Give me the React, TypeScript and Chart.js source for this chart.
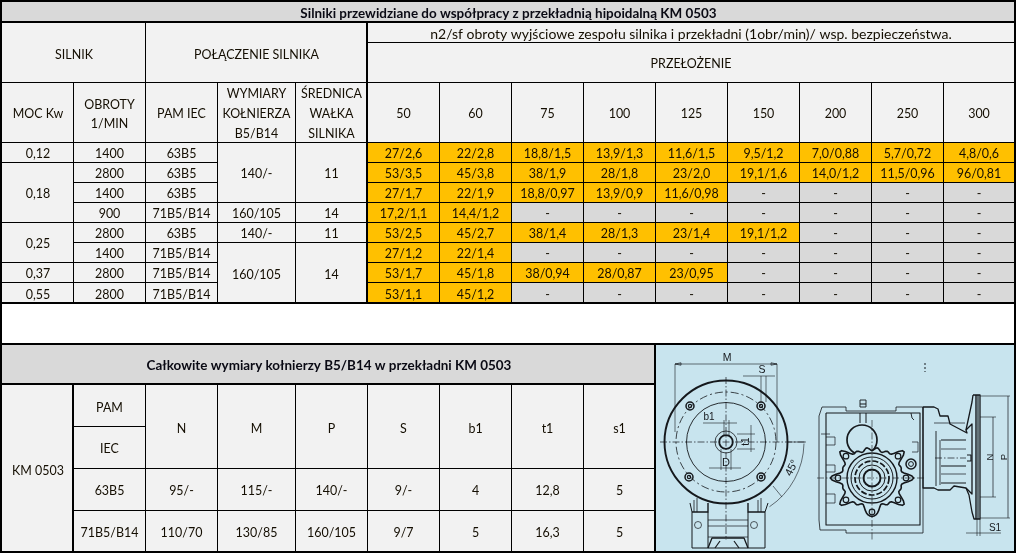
import React, { useEffect, useRef } from "react";
import { Chart, registerables } from "chart.js";

Chart.register(...registerables);

// ---- table content ----
const mainTitle = "Silniki przewidziane do współpracy z przekładnią hipoidalną KM 0503";
const outputNote = "n2/sf obroty wyjściowe zespołu silnika i przekładni (1obr/min)/ wsp. bezpieczeństwa.";
const ratioTitle = "PRZEŁOŻENIE";
const ratios = ["50", "60", "75", "100", "125", "150", "200", "250", "300"];
const motorPower = ["0,12", "0,18", "0,25", "0,37", "0,55"];
const motorPowerSpan = [1, 3, 2, 1, 1];
const motorSpeed = ["1400", "2800", "1400", "900", "2800", "1400", "2800", "2800"];
const pamIec = ["63B5", "63B5", "63B5", "71B5/B14", "63B5", "71B5/B14", "71B5/B14", "71B5/B14"];
const flangeSize = ["140/-", "160/105", "140/-", "160/105"];
const shaftSize = ["11", "14", "11", "14"];
const flangeSpan = [3, 1, 1, 3];
const outputs = [
  ["27/2,6", "22/2,8", "18,8/1,5", "13,9/1,3", "11,6/1,5", "9,5/1,2", "7,0/0,88", "5,7/0,72", "4,8/0,6"],
  ["53/3,5", "45/3,8", "38/1,9", "28/1,8", "23/2,0", "19,1/1,6", "14,0/1,2", "11,5/0,96", "96/0,81"],
  ["27/1,7", "22/1,9", "18,8/0,97", "13,9/0,9", "11,6/0,98", "-", "-", "-", "-"],
  ["17,2/1,1", "14,4/1,2", "-", "-", "-", "-", "-", "-", "-"],
  ["53/2,5", "45/2,7", "38/1,4", "28/1,3", "23/1,4", "19,1/1,2", "-", "-", "-"],
  ["27/1,2", "22/1,4", "-", "-", "-", "-", "-", "-", "-"],
  ["53/1,7", "45/1,8", "38/0,94", "28/0,87", "23/0,95", "-", "-", "-", "-"],
  ["53/1,1", "45/1,2", "-", "-", "-", "-", "-", "-", "-"],
];
const flangeTitle = "Całkowite wymiary kołnierzy B5/B14 w przekładni KM 0503";
const flangeHeads = ["N", "M", "P", "S", "b1", "t1", "s1"];
const flangeRowNames = ["63B5", "71B5/B14"];
const flangeRows = [
  ["95/-", "115/-", "140/-", "9/-", "4", "12,8", "5"],
  ["110/70", "130/85", "160/105", "9/7", "5", "16,3", "5"],
];

// ---- layout (page pixels) ----
const colX = [2, 73, 145, 217, 295, 367, 439, 511, 583, 655, 727, 799, 871, 943, 1014];
const bodyY = [142, 162, 182, 202, 222, 242, 262, 282, 303];
const lowY = [385, 426, 468, 510, 552];
const ORANGE = "#ffc000";
const GREY = "#d9d9d9";
const PALE = "#f2f2f2";
const PANEL = "#c8e4ee";
const FONT = "Lato, Carlito, sans-serif";

type Cell = { x0: number; x1: number; y0: number; y1: number; lines: string[]; fill: string; bold?: boolean };

function buildCells(): Cell[] {
  const c: Cell[] = [];
  const add = (x0: number, x1: number, y0: number, y1: number, text: string | string[], fill = PALE, bold = false) =>
    c.push({ x0, x1, y0, y1, lines: Array.isArray(text) ? text : [text], fill, bold });
  add(2, 1014, 2, 22, mainTitle, GREY, true);
  add(2, colX[2], 23, 82, "SILNIK");
  add(colX[2], colX[5], 23, 82, "POŁĄCZENIE SILNIKA");
  add(colX[5], 1014, 23, 42, outputNote);
  add(colX[5], 1014, 42, 82, ratioTitle);
  add(colX[0], colX[1], 82, 142, "MOC Kw");
  add(colX[1], colX[2], 82, 142, ["OBROTY", "1/MIN"]);
  add(colX[2], colX[3], 82, 142, "PAM IEC");
  add(colX[3], colX[4], 82, 142, ["WYMIARY", "KOŁNIERZA", "B5/B14"]);
  add(colX[4], colX[5], 82, 142, ["ŚREDNICA", "WAŁKA", "SILNIKA"]);
  ratios.forEach((r, i) => add(colX[5 + i], colX[6 + i], 82, 142, r));
  let row = 0;
  motorPower.forEach((p, i) => {
    add(colX[0], colX[1], bodyY[row], bodyY[row + motorPowerSpan[i]], p);
    row += motorPowerSpan[i];
  });
  row = 0;
  flangeSize.forEach((f, i) => {
    add(colX[3], colX[4], bodyY[row], bodyY[row + flangeSpan[i]], f);
    add(colX[4], colX[5], bodyY[row], bodyY[row + flangeSpan[i]], shaftSize[i]);
    row += flangeSpan[i];
  });
  motorSpeed.forEach((s, i) => {
    add(colX[1], colX[2], bodyY[i], bodyY[i + 1], s);
    add(colX[2], colX[3], bodyY[i], bodyY[i + 1], pamIec[i]);
    outputs[i].forEach((v, j) =>
      add(colX[5 + j], colX[6 + j], bodyY[i], bodyY[i + 1], v, v === "-" ? GREY : ORANGE)
    );
  });
  add(2, colX[9], 345, 383, flangeTitle, GREY, true);
  add(colX[0], colX[1], lowY[0], lowY[4], "KM 0503");
  add(colX[1], colX[2], lowY[0], lowY[1], "PAM");
  add(colX[1], colX[2], lowY[1], lowY[2], "IEC");
  flangeHeads.forEach((h, i) => add(colX[2 + i], colX[3 + i], lowY[0], lowY[2], h));
  flangeRows.forEach((vals, r) => {
    add(colX[1], colX[2], lowY[2 + r], lowY[3 + r], flangeRowNames[r]);
    vals.forEach((v, i) => add(colX[2 + i], colX[3 + i], lowY[2 + r], lowY[3 + r], v));
  });
  add(656, 1014, 345, 551, [], PANEL);
  return c;
}

const thickLines = [
  // x0, x1, y0, y1
  [0, 1016, 0, 2], [0, 1016, 21, 23], [0, 1016, 302, 304], [0, 1016, 343, 345],
  [0, 655, 383, 385], [0, 1016, 551, 553], [0, 2, 0, 553], [1014, 1016, 0, 553],
  [366, 368, 22, 303], [72, 74, 384, 552], [654, 656, 343, 553],
];

function drawFigure(ctx: CanvasRenderingContext2D, X: (v: number) => number, Y: (v: number) => number) {
  const ink = "#15181c";
  ctx.save();
  ctx.strokeStyle = ink;
  ctx.fillStyle = ink;
  ctx.lineJoin = "round";
  const line = (pts: number[], w = 0.8, dash: number[] = []) => {
    ctx.lineWidth = w;
    ctx.setLineDash(dash);
    ctx.beginPath();
    for (let i = 0; i < pts.length; i += 2) {
      if (i === 0) ctx.moveTo(X(pts[i]), Y(pts[i + 1]));
      else ctx.lineTo(X(pts[i]), Y(pts[i + 1]));
    }
    ctx.stroke();
    ctx.setLineDash([]);
  };
  const circle = (cx: number, cy: number, r: number, w = 0.8, dash: number[] = [], a0 = 0, a1 = Math.PI * 2) => {
    ctx.lineWidth = w;
    ctx.setLineDash(dash);
    ctx.beginPath();
    ctx.arc(X(cx), Y(cy), r, a0, a1);
    ctx.stroke();
    ctx.setLineDash([]);
  };
  const label = (t: string, x: number, y: number, size = 11, rot = 0) => {
    ctx.save();
    ctx.translate(X(x), Y(y));
    ctx.rotate(rot);
    ctx.font = `${size}px "Liberation Sans", Arial, sans-serif`;
    ctx.textAlign = "center";
    ctx.textBaseline = "middle";
    ctx.fillText(t, 0, 0);
    ctx.restore();
  };
  const dd = [7, 2, 1.5, 2];

  // --- left view: flange circle ---
  const cx = 726, cy = 442;
  // lower body
  line([690, 503, 692, 512, 692, 548, 765, 548, 765, 512, 768, 503], 1);
  line([692, 512, 708, 512, 708, 503], 1.4);
  line([765, 512, 748, 512, 748, 503], 1.4);
  line([694, 500, 694, 512], 0.8); line([697, 498, 697, 512], 0.8);
  line([758, 500, 758, 512], 0.8); line([761, 498, 761, 512], 0.8);
  line([708, 512, 708, 548], 1); line([748, 512, 748, 548], 1);
  line([708, 520, 748, 520], 0.7); line([708, 526, 748, 526], 0.7); line([708, 537, 748, 537], 0.7);
  line([708, 548, 712, 538, 744, 538, 748, 548], 1.3);
  line([715, 548, 720, 541], 1.2); line([739, 548, 734, 541], 1.2);
  circle(698, 525, 3.5, 0.7); circle(754, 525, 3.5, 0.7);
  circle(cx, cy, 61.5, 1.9);
  circle(cx, cy, 50, 0.8, [8, 3, 2, 3]);
  circle(cx, cy, 39.5, 0.9);
  circle(cx, cy, 11, 0.8);
  circle(cx, cy, 6.8, 1.8);
  [[690, 406], [761, 406], [689, 477], [761, 477]].forEach(([bx, by]) => {
    circle(bx, by, 4, 1.5);
    circle(bx, by, 1.6, 1.2);
  });
  // centre lines
  line([660, cy, 805, cy], 0.7, dd);
  line([cx, 377, cx, 540], 0.7, dd);
  // M dimension
  line([675, 364, 777, 364], 0.6);
  line([675, 364, 675, 432], 0.6);
  line([777, 364, 777, 442], 0.6);
  line([675, 364, 681, 362.8, 681, 365.2, 675, 364], 0.7);
  line([777, 364, 771, 362.8, 771, 365.2, 777, 364], 0.7);
  label("M", 727, 358.5, 10.5);
  // S dimension
  line([743, 376, 775, 376], 0.6);
  line([761, 376, 761, 402], 0.6);
  line([766, 376, 766, 402], 0.6);
  label("S", 762, 370.5, 10.5);
  // b1
  line([703, 423, 737, 423], 0.6);
  line([724, 420, 724, 436], 0.6);
  line([729, 420, 729, 436], 0.6);
  label("b1", 709, 417, 10);
  // t1
  line([737, 434, 755, 434], 0.6);
  line([737, 449, 755, 449], 0.6);
  line([751, 425, 751, 452], 0.6);
  label("t1", 746, 441.5, 10, -Math.PI / 2);
  // D
  line([709, 468, 741, 468], 0.6);
  line([721, 449, 721, 470], 0.6);
  line([731, 449, 731, 470], 0.6);
  label("D", 726, 463, 11);
  // 45 deg
  circle(cx, cy, 78, 0.6, [], 0.02, 0.98);
  line([773, 486, 782, 497], 0.6);
  line([cx + 61, cy, cx + 80, cy], 0.6);
  label("45°", 792, 468, 11, -1.1);

  // --- middle view: gearbox front ---
  line([819, 416, 822, 407, 846, 407, 846, 411, 896, 411, 896, 407, 923, 407, 923, 533, 846, 533, 846, 530, 820, 530, 819, 520, 819, 416], 0.8);
  line([826, 413, 920, 413, 920, 525, 826, 525, 826, 413], 1.1);
  line([860, 404, 866, 404], 1); line([860, 400, 866, 400, 866, 407, 860, 407, 860, 400], 0.9);
  line([860, 413, 860, 423], 1); line([866, 413, 866, 423], 1);
  line([821, 434, 830, 434], 0.7); line([826, 437, 835, 437, 835, 445, 826, 445], 0.7);
  line([826, 465, 835, 465, 835, 472, 826, 472], 0.7);
  line([826, 494, 835, 494, 835, 503, 826, 503], 0.7);
  line([912, 442, 918, 442, 918, 452, 912, 452], 0.7);
  line([911, 413, 912, 418, 914, 420], 0.9);
  circle(862, 440, 15, 1.7);
  // lobed flange
  const fx = 872, fy = 478;
  const lobeAngles = [0, 40, 90, 140, 180, 220, 320];
  const lobes = lobeAngles.map((d) => (d * Math.PI) / 180);
  ctx.save();
  ctx.fillStyle = PANEL;
  ctx.lineWidth = 1.6;
  ctx.beginPath();
  for (let a = 0; a <= 360; a += 3) {
    const t = (a * Math.PI) / 180;
    let r = 29 + 1.6 * Math.cos(18 * t);
    lobes.forEach((l) => {
      const d = Math.atan2(Math.sin(t - l), Math.cos(t - l));
      r += 11 * Math.exp(-(d * d) / 0.03);
    });
    const px = X(fx) + r * Math.cos(t), py = Y(fy) + r * Math.sin(t);
    if (a === 0) ctx.moveTo(px, py); else ctx.lineTo(px, py);
  }
  ctx.closePath();
  ctx.fill();
  ctx.stroke();
  ctx.restore();
  lobes.forEach((l) => circle(fx + 34 * Math.cos(l), fy + 34 * Math.sin(l), 2.8, 1.2));
  circle(fx, fy, 25, 1.4);
  circle(fx, fy, 21, 1);
  circle(fx, fy, 17, 1.7, [6, 2]);
  circle(fx, fy, 13, 1);
  circle(fx, fy, 8.5, 1.9);
  line([fx - 2, fy - 9, fx - 2, fy - 7], 1.2); line([fx + 2, fy - 9, fx + 2, fy - 7], 1.2);
  circle(911, 464, 5, 1.5); circle(911, 464, 2.4, 1);
  line([817, 478, 925, 478], 0.6, dd);
  line([872, 420, 872, 540], 0.6, dd);
  line([925, 363, 925, 372], 1, [2, 2]);

  // --- right view: gearbox side ---
  line([923, 407, 934, 407, 938, 409, 940, 416, 948, 416, 950, 424, 967, 433, 966, 430, 972, 424, 972, 494, 966, 488, 954, 486, 950, 490, 938, 490, 934, 488, 923, 488, 923, 407], 1.3);
  line([934, 423, 965, 423], 0.7); line([936, 431, 936, 486], 0.9);
  line([941, 440, 966, 440], 1); line([941, 449, 966, 449], 0.7);
  line([941, 466, 966, 466], 1); line([941, 474, 966, 474], 0.7);
  line([941, 483, 966, 483], 1); line([940, 440, 940, 485], 0.8);
  line([973, 395, 972, 402, 969, 416, 966, 430], 1.3);
  line([973, 395, 980, 395, 980, 519, 974, 519, 972, 512, 969, 495, 966, 488], 1.3);
  line([976, 395, 976, 519], 1.4);
  line([978, 395, 978, 519], 1.1);
  line([935, 458, 966, 458], 0.7, dd);
  line([967, 455, 971, 455, 971, 461, 967, 461], 1.2);
  // N / P / S1 dimensions
  line([980, 417, 996, 417], 0.6); line([980, 497, 996, 497], 0.6);
  line([993, 417, 993, 497], 0.7);
  label("N", 990, 457, 9.5, -Math.PI / 2);
  line([980, 396, 1010, 396], 0.6); line([980, 518, 1010, 518], 0.6);
  line([1008, 396, 1008, 518], 0.7);
  label("P", 1004, 457, 9.5, -Math.PI / 2);
  line([977, 519, 977, 536], 0.6); line([980, 519, 980, 536], 0.6);
  line([966, 533, 1001, 533], 0.6);
  label("S1", 995, 528, 10);
  ctx.restore();
}

export default function App() {
  const ref = useRef<HTMLCanvasElement | null>(null);
  useEffect(() => {
    document.body.style.margin = "0";
    const cells = buildCells();
    const heights = Array.from(new Set(cells.map((c) => c.y1 - c.y0)));
    const datasets = heights.map((h) => {
      const group = cells.filter((c) => c.y1 - c.y0 === h);
      return {
        data: group.map((c) => ({ x: [c.x0, c.x1], y: (c.y0 + c.y1) / 2 })),
        backgroundColor: group.map((c) => c.fill),
        barThickness: h,
        maxBarThickness: h,
        borderWidth: 0,
        grouped: false,
        inflateAmount: 0,
      };
    });
    const tablePlugin = {
      id: "tablePlugin",
      afterDatasetsDraw(chart: any) {
        const ctx: CanvasRenderingContext2D = chart.ctx;
        const sx = chart.scales.x, sy = chart.scales.y;
        const X = (v: number) => sx.getPixelForValue(v);
        const Y = (v: number) => sy.getPixelForValue(v);
        const rect = (x0: number, x1: number, y0: number, y1: number) =>
          ctx.fillRect(X(x0), Y(y0), X(x1) - X(x0), Y(y1) - Y(y0));
        ctx.save();
        drawFigure(ctx, X, Y);
        ctx.fillStyle = "#000";
        cells.forEach((c) => {
          if (c.fill === PANEL) return;
          rect(c.x1, c.x1 + 1, c.y0, c.y1 + 1);
          rect(c.x0, c.x1 + 1, c.y1, c.y1 + 1);
        });
        thickLines.forEach(([a, b, p, q]) => rect(a, b, p, q));
        ctx.textAlign = "center";
        ctx.textBaseline = "middle";
        cells.forEach((c) => {
          const cx = (c.x0 + c.x1) / 2 + 0.5;
          const cy = (c.y0 + c.y1) / 2 + (c.bold ? 1 : 1.5);
          ctx.font = `${c.bold ? "bold " : ""}14px ${FONT}`;
          ctx.fillStyle = c.bold ? "#0a0a14" : "#140e02";
          const lh = c.lines.length === 3 ? 20 : 19;
          c.lines.forEach((t, i) => {
            // Lato's capitals and digits run wider than the reference face
            const hasLower = /[a-zśćńęąłóżź]{2}/.test(t);
            const factor = c.bold ? 0.96 : hasLower ? 1.01 : 0.89;
            const w = ctx.measureText(t).width * factor;
            ctx.fillText(t, X(cx), Y(cy + (i - (c.lines.length - 1) / 2) * lh), factor > 1 ? undefined : w);
          });
        });
        ctx.restore();
      },
    };
    const chart = new Chart(ref.current as HTMLCanvasElement, {
      type: "bar",
      data: { datasets } as any,
      options: {
        indexAxis: "y",
        animation: false,
        responsive: false,
        devicePixelRatio: 1,
        layout: { padding: 0 },
        plugins: { legend: { display: false }, tooltip: { enabled: false }, title: { display: false } },
        scales: {
          x: { type: "linear", min: 0, max: 1016, display: false },
          y: { type: "linear", min: 0, max: 553, reverse: true, offset: false, display: false },
        },
      } as any,
      plugins: [tablePlugin],
    });
    return () => chart.destroy();
  }, []);
  return <canvas ref={ref} width={1016} height={553} style={{ display: "block", background: "#fff" }} />;
}
